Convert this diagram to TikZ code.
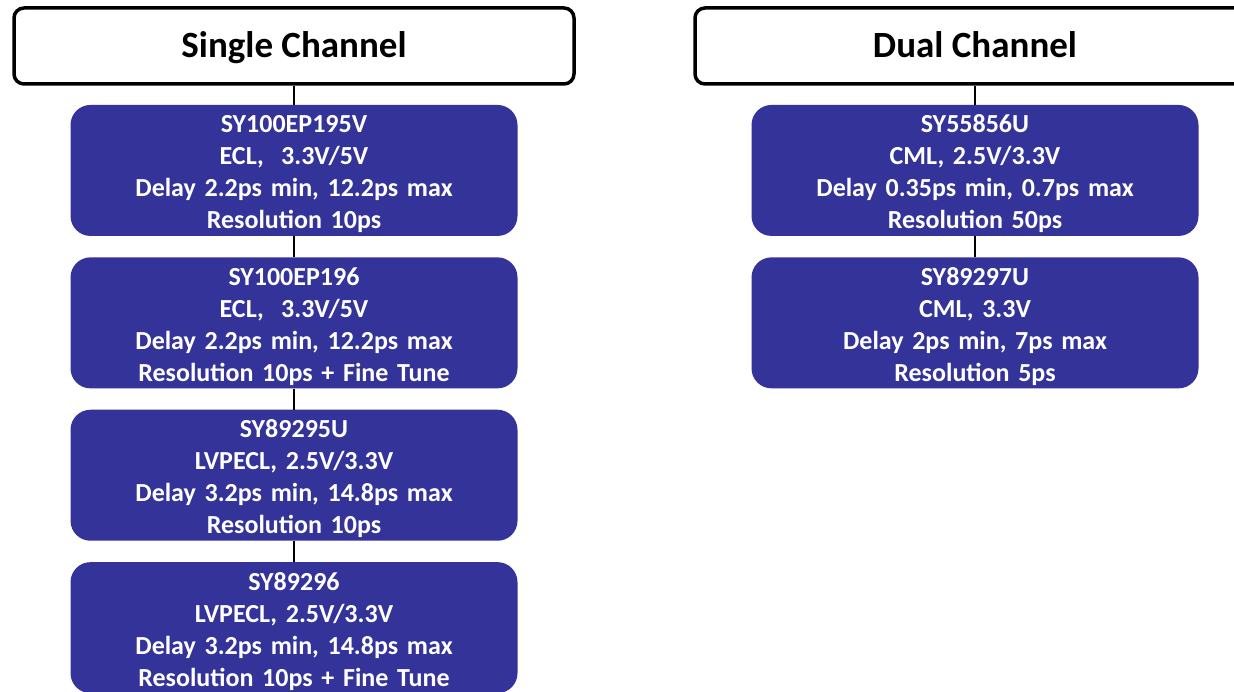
\documentclass[tikz,border=0pt]{standalone}
\usepackage{fontspec}
\setmainfont{Carlito}
\usetikzlibrary{positioning}
\definecolor{Cchip}{RGB}{51,51,153}
\tikzset{
  headbox/.style={draw=black, fill=white, rounded corners=10pt, line width=3.5pt,
    minimum width=560pt, minimum height=76pt, inner sep=0pt,
    text height=23pt, text depth=0pt,
    font=\fontsize{37}{44}\selectfont\bfseries},
  chipbox/.style={fill=Cchip, text=white, rounded corners=20pt,
    minimum width=447pt, minimum height=131pt, text width=447pt, inner sep=0pt,
    text height=25pt, align=center, font=\fontsize{26}{32}\selectfont\bfseries},
  link/.style={line width=1.5pt, black},
}

\begin{document}
\begin{tikzpicture}[x=1pt, y=1pt, node distance=21pt]
\useasboundingbox (0,0) rectangle (1234,691);

%%==========================================================================
%% LEFT COLUMN — single channel parts
%%==========================================================================

\node[headbox] (single) at (294,645) {Single Channel};

\node[chipbox, below=19pt of single] (ep195)
  {SY100EP195V\\
   ECL, \ 3.3V/5V\\
   Delay 2.2ps min, 12.2ps max\\
   Resolution 10ps};

\node[chipbox, below=of ep195] (ep196)
  {SY100EP196\\
   ECL, \ 3.3V/5V\\
   Delay 2.2ps min, 12.2ps max\\
   Resolution 10ps + Fine Tune};

\node[chipbox, below=of ep196] (u295)
  {SY89295U\\
   LVPECL, 2.5V/3.3V\\
   Delay 3.2ps min, 14.8ps max\\
   Resolution 10ps};

\node[chipbox, below=of u295] (u296)
  {SY89296\\
   LVPECL, 2.5V/3.3V\\
   Delay 3.2ps min, 14.8ps max\\
   Resolution 10ps + Fine Tune};

%%==========================================================================
%% RIGHT COLUMN — dual channel parts
%%==========================================================================

\node[headbox] (dual) at (975,645) {Dual Channel};

\node[chipbox, below=19pt of dual] (u856)
  {SY55856U\\
   CML, 2.5V/3.3V\\
   Delay 0.35ps min, 0.7ps max\\
   Resolution 50ps};

\node[chipbox, below=of u856] (u297)
  {SY89297U\\
   CML, 3.3V\\
   Delay 2ps min, 7ps max\\
   Resolution 5ps};

%%==========================================================================
%% LINKS
%%==========================================================================

\draw[link] (single.south) -- (ep195.north);
\draw[link] (ep195.south) -- (ep196.north);
\draw[link] (ep196.south) -- (u295.north);
\draw[link] (u295.south) -- (u296.north);

\draw[link] (dual.south) -- (u856.north);
\draw[link] (u856.south) -- (u297.north);

\end{tikzpicture}
\end{document}
